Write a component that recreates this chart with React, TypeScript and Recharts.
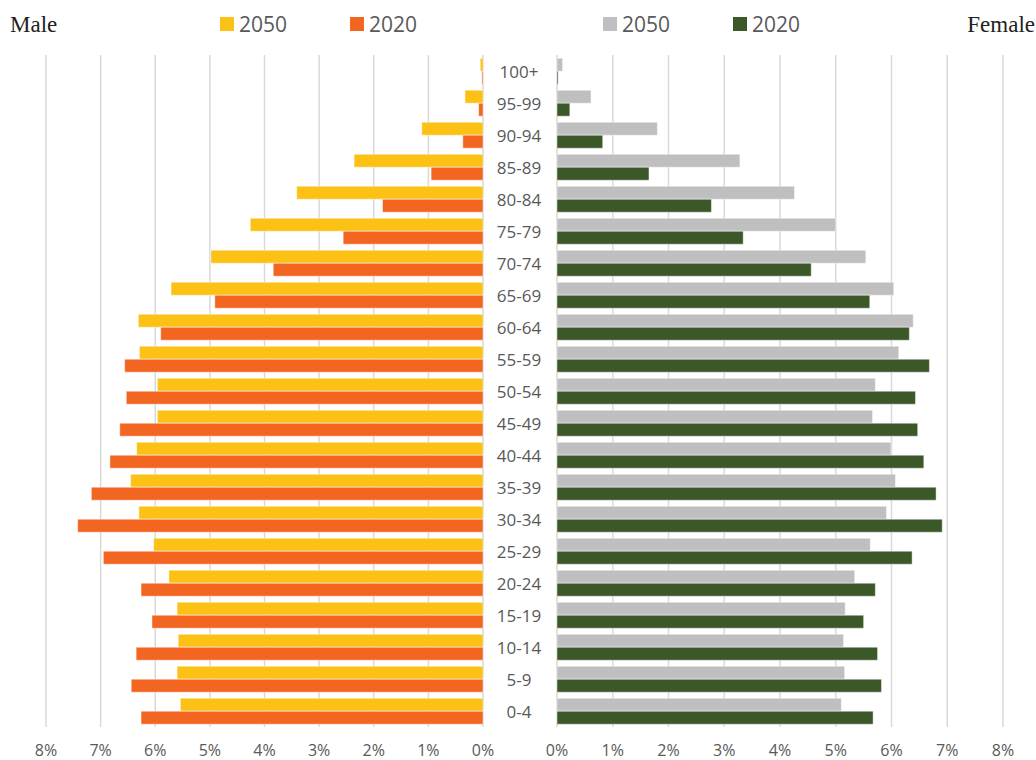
import React from "react";
import { BarChart, Bar, XAxis, YAxis, CartesianGrid } from "recharts";

const ages = ["100+", "95-99", "90-94", "85-89", "80-84", "75-79", "70-74", "65-69", "60-64", "55-59", "50-54", "45-49", "40-44", "35-39", "30-34", "25-29", "20-24", "15-19", "10-14", "5-9", "0-4"];
const male2050 = [0.05, 0.33, 1.12, 2.36, 3.41, 4.26, 4.98, 5.71, 6.31, 6.29, 5.96, 5.96, 6.34, 6.45, 6.3, 6.03, 5.75, 5.6, 5.58, 5.6, 5.54];
const male2020 = [0.02, 0.08, 0.37, 0.95, 1.84, 2.56, 3.84, 4.91, 5.9, 6.56, 6.53, 6.65, 6.83, 7.17, 7.42, 6.95, 6.26, 6.06, 6.35, 6.44, 6.26];
const female2050 = [0.1, 0.61, 1.8, 3.28, 4.26, 5.0, 5.54, 6.04, 6.39, 6.13, 5.71, 5.66, 5.99, 6.07, 5.91, 5.62, 5.34, 5.17, 5.14, 5.16, 5.1];
const female2020 = [0.02, 0.23, 0.82, 1.65, 2.77, 3.34, 4.56, 5.61, 6.32, 6.68, 6.43, 6.47, 6.58, 6.8, 6.91, 6.37, 5.71, 5.5, 5.75, 5.82, 5.67];
const percentTicks = [0, 1, 2, 3, 4, 5, 6, 7, 8];

const maleData = ages.map((age, i) => ({ age, y2050: male2050[i], y2020: male2020[i] }));
const femaleData = ages.map((age, i) => ({ age, y2050: female2050[i], y2020: female2020[i] }));

const COLORS = {
  m2050: "#FCC115",
  m2020: "#F36622",
  f2050: "#BFBFBF",
  f2020: "#3B5829",
};

const TEXT = "#595959";
const FONT = "'Open Sans', sans-serif";

const LegendBox = ({ items, left }: { items: { label: string; color: string }[]; left: number }) => (
  <div style={{ position: "absolute", top: 10, left, display: "flex", fontFamily: FONT, fontSize: 21, color: TEXT }}>
    {items.map((it, i) => (
      <div key={i} style={{ display: "flex", alignItems: "center", width: i === 0 ? 130 : 80 }}>
        <span style={{ display: "inline-block", width: 14, height: 14, background: it.color, marginRight: 5 }} />
        <span>{it.label}</span>
      </div>
    ))}
  </div>
);

const AgeTick = (props: any) => {
  const { x, y, payload } = props;
  return (
    <text x={x - 30} y={y} dy={7} textAnchor="middle" fill={TEXT} fontSize={17} fontFamily={FONT}>
      {payload.value}
    </text>
  );
};

export default function App() {
  const tickStyle = { fill: TEXT, fontSize: 16, fontFamily: FONT };
  return (
    <div style={{ position: "absolute", left: 0, top: 0, width: 1036, height: 760, background: "#fff" }}>
      <div style={{ position: "absolute", left: 10, top: 12, fontSize: 23, color: "#222" }}>Male</div>
      <div style={{ position: "absolute", right: 1, top: 12, fontSize: 23, color: "#222" }}>Female</div>
      <LegendBox left={220} items={[{ label: "2050", color: COLORS.m2050 }, { label: "2020", color: COLORS.m2020 }]} />
      <LegendBox left={603} items={[{ label: "2050", color: COLORS.f2050 }, { label: "2020", color: COLORS.f2020 }]} />

      <div style={{ position: "absolute", left: 0, top: 0 }}>
        <BarChart
          width={520}
          height={760}
          data={maleData}
          layout="vertical"
          margin={{ top: 55, right: 37, bottom: 0, left: 46 }}
          barCategoryGap="10%"
          barGap={0}
        >
          <CartesianGrid horizontal={false} stroke="#D9D9D9" strokeWidth={1.5} />
          <XAxis
            type="number"
            domain={[0, 8]}
            ticks={percentTicks}
            reversed
            axisLine={false}
            tickLine={false}
            tick={tickStyle}
            tickFormatter={(v) => `${v}%`}
            height={33}
            tickMargin={12}
            interval={0}
          />
          <YAxis type="category" dataKey="age" hide />
          <Bar dataKey="y2050" fill={COLORS.m2050} stroke="#ffffff" strokeOpacity={0.45} strokeWidth={1} isAnimationActive={false} />
          <Bar dataKey="y2020" fill={COLORS.m2020} stroke="#ffffff" strokeOpacity={0.45} strokeWidth={1} isAnimationActive={false} />
        </BarChart>
      </div>

      <div style={{ position: "absolute", left: 483, top: 0 }}>
        <BarChart
          width={553}
          height={760}
          data={femaleData}
          layout="vertical"
          margin={{ top: 55, right: 33, bottom: 0, left: 0 }}
          barCategoryGap="10%"
          barGap={0}
        >
          <CartesianGrid horizontal={false} stroke="#D9D9D9" strokeWidth={1.5} />
          <XAxis
            type="number"
            domain={[0, 8]}
            ticks={percentTicks}
            axisLine={false}
            tickLine={false}
            tick={tickStyle}
            tickFormatter={(v) => `${v}%`}
            height={33}
            tickMargin={12}
            interval={0}
          />
          <YAxis type="category" dataKey="age" width={74} axisLine={false} tickLine={false} tick={<AgeTick />} interval={0} />
          <Bar dataKey="y2050" fill={COLORS.f2050} stroke="#ffffff" strokeOpacity={0.45} strokeWidth={1} isAnimationActive={false} />
          <Bar dataKey="y2020" fill={COLORS.f2020} stroke="#ffffff" strokeOpacity={0.45} strokeWidth={1} isAnimationActive={false} />
        </BarChart>
      </div>
    </div>
  );
}
